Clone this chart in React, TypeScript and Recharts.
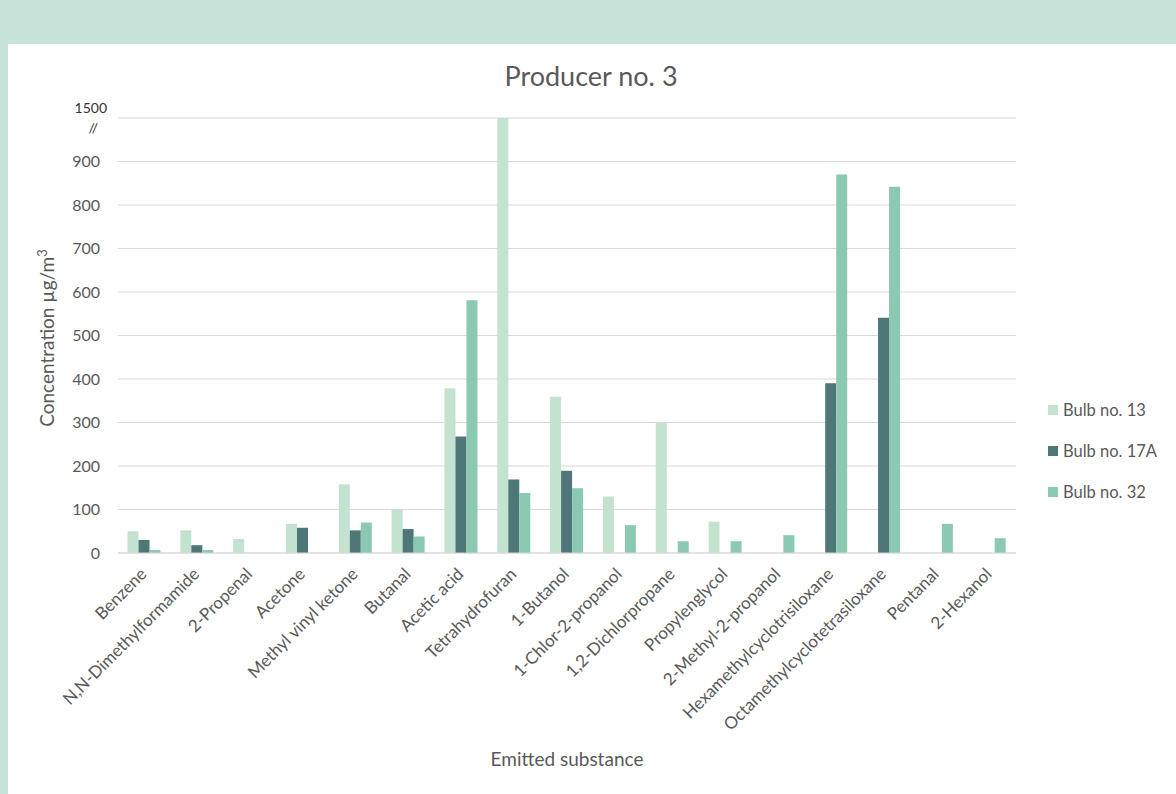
import * as React from 'react';
import { Bar, BarChart, CartesianGrid, Label, XAxis, YAxis } from 'recharts';

const substances = [
  'Benzene',
  'N,N-Dimethylformamide',
  '2-Propenal',
  'Acetone',
  'Methyl vinyl ketone',
  'Butanal',
  'Acetic acid',
  'Tetrahydrofuran',
  '1-Butanol',
  '1-Chlor-2-propanol',
  '1,2-Dichlorpropane',
  'Propylenglycol',
  '2-Methyl-2-propanol',
  'Hexamethylcyclotrisiloxane',
  'Octamethylcyclotetrasiloxane',
  'Pentanal',
  '2-Hexanol',
];

const bulb13 = [50, 52, 32, 67, 158, 99, 379, 1500, 359, 130, 299, 72, 0, 0, 0, 0, 0];
const bulb17A = [30, 18, 0, 58, 52, 55, 268, 169, 189, 0, 0, 0, 0, 390, 541, 0, 0];
const bulb32 = [7, 7, 0, 0, 70, 38, 581, 138, 149, 64, 27, 27, 41, 870, 842, 67, 34];

// axis is broken above 900: the top gridline stands for 1500
const yTicks = [0, 100, 200, 300, 400, 500, 600, 700, 800, 900, 1000];
const breakTick = 1000;
const breakLabel = '1500';

const seriesNames = ['Bulb no. 13', 'Bulb no. 17A', 'Bulb no. 32'];
const seriesColors = ['#c4e2d0', '#4f7778', '#8cc9b2'];

const FONT = 'Lato, "Open Sans", sans-serif';
const GREY = '#595959';

const data = substances.map((name, i) => ({
  name,
  b13: bulb13[i],
  b17A: bulb17A[i],
  b32: bulb32[i],
}));

function YTick(props: any) {
  const { x, y, payload } = props;
  if (payload.value === breakTick) {
    return (
      <g>
        <text x={x + 7} y={y - 10} dy="0.35em" textAnchor="end" fontSize={14} fill="#333" fontFamily={FONT}>
          {breakLabel}
        </text>
        <text x={x - 2} y={y + 10} dy="0.35em" textAnchor="end" fontSize={14} fill="#333" fontFamily={FONT}>
          //
        </text>
      </g>
    );
  }
  return (
    <text x={x} y={y} dy="0.35em" textAnchor="end" fontSize={16} fill={GREY} fontFamily={FONT}>
      {payload.value}
    </text>
  );
}

function XTick(props: any) {
  const { x, y, payload } = props;
  const tx = x - 1;
  const ty = y + 10;
  return (
    <text
      x={tx}
      y={ty}
      dy="0.35em"
      textAnchor="end"
      transform={`rotate(-45, ${tx}, ${ty})`}
      fontSize={17}
      fill={GREY}
      fontFamily={FONT}
    >
      {payload.value}
    </text>
  );
}

function LegendBox() {
  return (
    <div
      style={{
        position: 'absolute',
        left: 1040,
        top: 345,
        fontFamily: FONT,
        fontSize: 16.5,
        color: GREY,
      }}
    >
      {seriesNames.map((n, i) => (
        <div key={n} style={{ display: 'flex', alignItems: 'center', height: 41 }}>
          <span
            style={{
              display: 'inline-block',
              width: 10,
              height: 10,
              background: seriesColors[i],
              marginRight: 5,
            }}
          />
          {n}
        </div>
      ))}
    </div>
  );
}

export default function App() {
  return (
    <div
      style={{
        position: 'absolute',
        left: 0,
        top: 0,
        width: 1176,
        height: 794,
        background: '#c8e3da',
        overflow: 'hidden',
      }}
    >
      <div
        style={{
          position: 'absolute',
          left: 8,
          top: 44,
          width: 1168,
          height: 750,
          background: '#fff',
        }}
      >
        <div
          style={{
            position: 'absolute',
            top: 15,
            width: 1166,
            textAlign: 'center',
            fontFamily: FONT,
            fontSize: 27,
            color: GREY,
          }}
        >
          Producer no. 3
        </div>
        <BarChart
          width={1168}
          height={750}
          data={data}
          margin={{ top: 74, right: 160, bottom: 0, left: 0 }}
          barCategoryGap="18%"
          barGap={0}
        >
          <CartesianGrid vertical={false} stroke="#d9d9d9" />
          <XAxis
            dataKey="name"
            interval={0}
            height={241}
            tick={<XTick />}
            tickLine={false}
            axisLine={{ stroke: '#d9d9d9' }}
          >
            <Label
              value="Emitted substance"
              position="insideBottom"
              offset={28}
              style={{ fontFamily: FONT, fontSize: 19, fill: GREY }}
            />
          </XAxis>
          <YAxis
            width={110}
            domain={[0, 1000]}
            ticks={yTicks}
            allowDataOverflow
            interval={0}
            tick={<YTick />}
            tickLine={false}
            axisLine={false}
            tickMargin={12}
          >
            <Label
              content={() => (
                <text
                  x={0}
                  y={0}
                  transform="translate(46, 294) rotate(-90)"
                  textAnchor="middle"
                  fontSize={19}
                  fill={GREY}
                  fontFamily={FONT}
                >
                  Concentration µg/m<tspan dy={-7} fontSize={13}>3</tspan>
                </text>
              )}
            />
          </YAxis>
          <Bar dataKey="b13" name={seriesNames[0]} fill={seriesColors[0]} isAnimationActive={false} />
          <Bar dataKey="b17A" name={seriesNames[1]} fill={seriesColors[1]} isAnimationActive={false} />
          <Bar dataKey="b32" name={seriesNames[2]} fill={seriesColors[2]} isAnimationActive={false} />
        </BarChart>
        <LegendBox />
      </div>
    </div>
  );
}
